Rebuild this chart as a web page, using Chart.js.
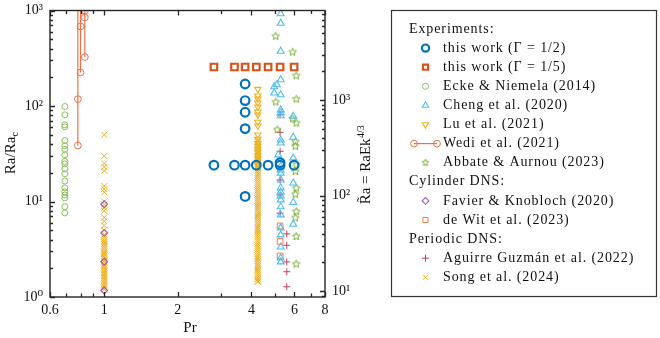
<!DOCTYPE html>
<html lang="en">
<head>
<meta charset="UTF-8" />
<title>Ra/Ra_c versus Pr</title>
<script src="https://cdn.jsdelivr.net/npm/chart.js"></script>
<style>
  html, body { margin: 0; padding: 0; background: #fff; }
  #wrap { width: 660px; height: 338px; }
</style>
</head>
<body>
<div id="wrap"><canvas id="chart" width="660" height="338"></canvas></div>
<script>
// ---- axes ----
const prTicks = [0.6, 0.7, 0.8, 0.9, 1, 2, 3, 4, 5, 6, 7, 8];
const prLabels = { 0.6: '0.6', 1: '1', 2: '2', 4: '4', 6: '6', 8: '8' };
const raTicks = [1, 2, 3, 4, 5, 6, 7, 8, 9, 10, 20, 30, 40, 50, 60, 70, 80, 90,
                 100, 200, 300, 400, 500, 600, 700, 800, 900, 1000];
const raLabels = { 1: '10⁰', 10: '10¹', 100: '10²', 1000: '10³' };
const raTildeTicks = [9, 10, 20, 30, 40, 50, 60, 70, 80, 90, 100, 200, 300, 400, 500,
                      600, 700, 800, 900, 1000, 2000, 3000, 4000, 5000, 6000, 7000, 8000];
const raTildeLabels = { 10: '10¹', 100: '10²', 1000: '10³' };
const raTildeRange = [8.7, 8700];

// ---- data (Pr, Ra/Ra_c) ----
const halfPr = [2.81, 3.41, 3.77, 4.19, 4.68, 5.24, 5.24, 5.98, 3.77, 3.77, 3.77, 3.77, 3.77];
const halfRa = [24, 24, 24, 24, 24, 24, 25.5, 24, 170, 114, 86, 58, 11.3];
const fifthPr = [2.81, 3.41, 3.77, 4.19, 4.68, 5.24, 5.98];
const fifthRa = [256, 256, 256, 256, 256, 256, 256];
const eckePr = 0.69;
const eckeRa = [98.8, 80.9, 63.5, 60.5, 43.5, 38.3, 35.2, 30.8, 26.3, 24.8, 22, 19.5,
                16.4, 13.9, 12.6, 11.7, 10.9, 8.84, 7.6];
const chengPr = [5.27, 5.27, 5.27, 5.27, 5.27, 5.27, 5.27, 5.27, 5.27, 5.27, 5.15, 5.27, 5.27,
                 5.27, 5.27, 5.27, 5.27, 5.27, 5.27, 5.27, 5.27, 5.27, 5.27, 5.27, 5.27, 5.27,
                 5.08, 4.96, 4.96, 5.93, 5.93, 5.93, 5.93, 5.93, 5.93];
const chengRa = [926, 736, 375, 188, 131, 91, 85, 79, 44, 41, 30.8, 23.2, 21.4,
                 19.8, 16.8, 13.9, 12.6, 11.4, 10.4, 8.8, 7.24, 5.29, 4.47, 3.34, 2.56, 2.33,
                 167, 159, 137, 78, 47, 28.6, 15.6, 9.8, 5.78];
const luPr = 4.25;
const luRa = [150, 128, 119, 108, 98, 87, 81, 68, 62, 50, 45, 41, 38, 35, 33, 30, 28, 26, 24];
const wediPr = [0.78, 0.8, 0.833];
const wediRa = [[38.5, 118, 3000], [224, 681, 3000], [326, 847, 995, 3000]];
const abbatePr = [5.03, 5.9, 6.1, 5.03, 6.1, 5.1, 5.9, 6.1, 6.05, 6.05, 6.1, 6.05, 6.1,
                  6.05, 6.1, 6.05, 6.1, 6.1];
const abbateRa = [538, 367, 207, 110, 118, 56.3, 73.4, 66.2, 42.2, 37.8, 24.2, 20.6, 13.8,
                  11.9, 7.84, 6.73, 4.3, 2.21];
const favierPr = 1;
const favierRa = [9.37, 4.69, 2.34, 1.17];
const dewitPr = 5.24;
const dewitRa = [5.55, 3.82, 2.69];
const aguirrePr = [5.24, 5.24, 5.24, 5.24, 5.24, 5.24, 5.58, 5.58, 5.58, 5.58, 5.58];
const aguirreRa = [81, 53, 33.5, 16.8, 11.7, 7.54, 4.58, 3.48, 2.33, 1.84, 1.28];
const songPrA = 1;
const songRaA = [50, 30, 25, 23, 21, 14.5, 13.5, 12.5, 10, 9.3, 8.6, 8, 6.8, 6.2, 5.6, 5,
                 4.5, 4.3, 4.1, 3.9, 3.75, 3.6, 3.45, 3.3, 3.15, 3.0, 2.9, 2.8, 2.7, 2.6, 2.5,
                 2.4, 2.3, 2.2, 2.12, 2.05, 1.98, 1.9, 1.83, 1.76, 1.7, 1.64, 1.58, 1.52, 1.46,
                 1.4, 1.35, 1.3, 1.25, 1.2];
const songPrB = 4.25;
const songRaB = [44, 42, 40, 38, 36, 34.5, 33, 31.5, 30, 28.5, 27, 26, 25, 24, 23, 22, 21, 20,
                 19, 18.2, 17.4, 16.6, 15.8, 15, 14.3, 13.6, 13, 12.4, 11.8, 11.2, 10.7, 10.2,
                 9.7, 9.2, 8.8, 8.4, 8, 7.6, 7.2, 6.9, 6.6, 6.3, 6, 5.7, 5.4, 5.2, 5, 4.8, 4.6,
                 4.4, 4.2, 4, 3.8, 3.6, 3.45, 3.3, 3.15, 3, 2.85, 2.7, 2.6, 2.5, 2.4, 2.3, 2.2,
                 2.1, 2, 1.92, 1.84, 1.76, 1.68, 1.6, 1.54, 1.48, 1.44];

const pairs = (xs, ys) => ys.map((y, i) => ({ x: Array.isArray(xs) ? xs[i] : xs, y: y }));

function makeStar(color, r) {
  const c = document.createElement('canvas');
  const s = Math.ceil(r * 2 + 3);
  c.width = c.height = s;
  const g = c.getContext('2d');
  g.strokeStyle = color;
  g.lineWidth = 1;
  g.beginPath();
  for (let i = 0; i < 10; i++) {
    const a = -Math.PI / 2 + i * Math.PI / 5;
    const rr = i % 2 ? r * 0.45 : r;
    g.lineTo(s / 2 + rr * Math.cos(a), s / 2 + rr * Math.sin(a));
  }
  g.closePath();
  g.stroke();
  return c;
}

const C = {
  blue: '#0072BD', orange: '#D95319', ecke: '#88BF57', cheng: '#4DBEEE', lu: '#EDB120',
  wedi: '#E8734A', abbate: '#77AC30', favier: '#9E5BB5', dewit: '#EE7D4A',
  aguirre: '#C23F5B', song: '#EDB120'
};
const starImg = makeStar(C.abbate, 4);
const starLegend = makeStar(C.abbate, 3.5);

function ds(label, data, color, style, radius, width, extra) {
  return Object.assign({
    label: label, data: data, borderColor: color, backgroundColor: 'rgba(0,0,0,0)',
    pointStyle: style, pointRadius: radius, pointHoverRadius: radius,
    pointBorderWidth: width, showLine: false
  }, extra || {});
}

const datasets = [
  ds('this work (Γ = 1/2)', pairs(halfPr, halfRa), C.blue, 'circle', 4.3, 2.2),
  ds('this work (Γ = 1/5)', pairs(fifthPr, fifthRa), C.orange, 'rect', 4.6, 2.2),
  ds('Ecke & Niemela (2014)', pairs(eckePr, eckeRa), C.ecke, 'circle', 3, 1),
  ds('Cheng et al. (2020)', pairs(chengPr, chengRa), C.cheng, 'triangle', 4, 1.1),
  ds('Lu et al. (2021)', pairs(luPr, luRa), C.lu, 'triangle', 3.6, 1.1, { pointRotation: 180 }),
  ...wediRa.map((ra, k) => ds('Wedi et al. (2021)', pairs(wediPr[k], ra), C.wedi, 'circle', 3.4, 1,
      { showLine: true, borderWidth: 1.2, clip: 0 })),
  ds('Abbate & Aurnou (2023)', pairs(abbatePr, abbateRa), C.abbate, starImg, 4, 1),
  ds('Favier & Knobloch (2020)', pairs(favierPr, favierRa), C.favier, 'rectRot', 3.4, 1.1),
  ds('de Wit et al. (2023)', pairs(dewitPr, dewitRa), C.dewit, 'rect', 4, 1),
  ds('Aguirre Guzmán et al. (2022)', pairs(aguirrePr, aguirreRa), C.aguirre, 'cross', 3.5, 1),
  ds('Song et al. (2024)', pairs(songPrA, songRaA), C.song, 'crossRot', 4.2, 1),
  ds('Song et al. (2024)', pairs(songPrB, songRaB), C.song, 'crossRot', 4.2, 1)
];

const legendRows = [
  { header: 'Experiments:' },
  { ds: 0 }, { ds: 1 }, { ds: 2 }, { ds: 3 }, { ds: 4 }, { ds: 5, line: true }, { ds: 8 },
  { header: 'Cylinder DNS:' },
  { ds: 9 }, { ds: 10 },
  { header: 'Periodic DNS:' },
  { ds: 11 }, { ds: 12 }
];

const SERIF = "'Liberation Serif', 'DejaVu Serif', serif";

const framePlugin = {
  id: 'frame',
  afterDraw(chart) {
    const ctx = chart.ctx, a = chart.chartArea;
    const xs = chart.scales.x, yl = chart.scales.y, yr = chart.scales.y2;
    ctx.save();
    ctx.strokeStyle = '#262626';
    ctx.lineWidth = 1.3;
    ctx.beginPath();
    prTicks.forEach(v => {
      const p = Math.round(xs.getPixelForValue(v)) + 0.5;
      const L = prLabels[v] ? 5 : 3.5;
      ctx.moveTo(p, a.bottom); ctx.lineTo(p, a.bottom - L);
      ctx.moveTo(p, a.top); ctx.lineTo(p, a.top + L);
    });
    raTicks.forEach(v => {
      const p = Math.round(yl.getPixelForValue(v)) + 0.5;
      const L = raLabels[v] ? 5 : 3;
      ctx.moveTo(a.left, p); ctx.lineTo(a.left + L, p);
    });
    raTildeTicks.forEach(v => {
      const p = Math.round(yr.getPixelForValue(v)) + 0.5;
      const L = raTildeLabels[v] ? 5 : 3;
      ctx.moveTo(a.right, p); ctx.lineTo(a.right - L, p);
    });
    ctx.stroke();
    ctx.lineWidth = 1.4;
    ctx.strokeRect(a.left, a.top, a.right - a.left, a.bottom - a.top);

    // axis titles
    ctx.fillStyle = '#111';
    ctx.textBaseline = 'alphabetic';
    ctx.font = '15px ' + SERIF;
    ctx.textAlign = 'center';
    ctx.fillText('Pr', 190, 332);

    ctx.textAlign = 'left';
    ctx.save();
    ctx.translate(15, 153);
    ctx.rotate(-Math.PI / 2);
    const t1 = 'Ra/Ra';
    ctx.font = '15px ' + SERIF;
    const w1 = ctx.measureText(t1).width;
    ctx.font = '11px ' + SERIF;
    const w2 = ctx.measureText('c').width;
    let x0 = -(w1 + w2) / 2;
    ctx.font = '15px ' + SERIF;
    ctx.fillText(t1, x0, 0);
    ctx.font = '11px ' + SERIF;
    ctx.fillText('c', x0 + w1, 3);
    ctx.restore();

    ctx.save();
    ctx.translate(370, 165);
    ctx.rotate(-Math.PI / 2);
    const t2 = 'R\u0303a = RaEk';
    ctx.font = '15px ' + SERIF;
    const u1 = ctx.measureText(t2).width;
    ctx.font = '10px ' + SERIF;
    const u2 = ctx.measureText('4/3').width;
    x0 = -(u1 + u2) / 2;
    ctx.font = '15px ' + SERIF;
    ctx.fillText(t2, x0, 0);
    ctx.font = '10px ' + SERIF;
    ctx.fillText('4/3', x0 + u1 + 0.5, -6);
    ctx.restore();

    // legend
    ctx.lineWidth = 1.2;
    ctx.strokeStyle = '#333';
    ctx.strokeRect(391.5, 10.5, 265, 286);
    ctx.font = '14px ' + SERIF;
    ctx.textBaseline = 'middle';
    ctx.letterSpacing = '0.9px';
    legendRows.forEach((row, i) => {
      const y = 29 + i * 19.1;
      if (row.header) {
        ctx.fillStyle = '#111';
        ctx.fillText(row.header, 409, y);
        return;
      }
      const d = chart.data.datasets[row.ds];
      ctx.strokeStyle = d.borderColor;
      ctx.fillStyle = 'rgba(0,0,0,0)';
      const style = d.pointStyle === starImg ? starLegend : d.pointStyle;
      const opts = { pointStyle: style, radius: Math.min(d.pointRadius, 3.6),
                     borderWidth: d.pointBorderWidth, rotation: d.pointRotation || 0 };
      ctx.lineWidth = d.pointBorderWidth;
      if (row.line) {
        ctx.beginPath();
        ctx.moveTo(414, y); ctx.lineTo(437, y);
        ctx.lineWidth = 1.2;
        ctx.stroke();
        ctx.lineWidth = 1;
        Chart.helpers.drawPoint(ctx, opts, 414, y);
        Chart.helpers.drawPoint(ctx, opts, 437, y);
      } else {
        Chart.helpers.drawPoint(ctx, opts, 425.5, y);
      }
      ctx.fillStyle = '#111';
      ctx.fillText(d.label, 443, y);
    });
    ctx.restore();
  }
};

Chart.defaults.font.family = SERIF;
Chart.defaults.color = '#111';

const noPadV = s => { s.paddingTop = 0; s.paddingBottom = 0; };

new Chart(document.getElementById('chart'), {
  type: 'scatter',
  data: { datasets: datasets },
  options: {
    responsive: false,
    animation: false,
    events: [],
    layout: { padding: { top: 10.5, right: 290, left: 0, bottom: 0 } },
    plugins: { legend: { display: false }, tooltip: { enabled: false } },
    scales: {
      x: {
        type: 'logarithmic', min: 0.6, max: 8,
        grid: { display: false, drawTicks: false }, border: { display: false },
        afterBuildTicks: s => { s.ticks = prTicks.map(v => ({ value: v })); },
        afterFit: s => { s.height = 41; s.paddingLeft = 0; s.paddingRight = 0; },
        ticks: { autoSkip: false, maxRotation: 0, padding: 5, font: { size: 14 },
                 callback: v => prLabels[v] || '' }
      },
      y: {
        type: 'logarithmic', position: 'left', min: 1, max: 1000,
        grid: { display: false, drawTicks: false }, border: { display: false },
        afterBuildTicks: s => { s.ticks = raTicks.map(v => ({ value: v })); },
        afterFit: s => { s.width = 50; noPadV(s); },
        ticks: { autoSkip: false, padding: 7, font: { size: 14 },
                 callback: v => raLabels[v] || '' }
      },
      y2: {
        type: 'logarithmic', position: 'right', min: raTildeRange[0], max: raTildeRange[1],
        grid: { display: false, drawTicks: false }, border: { display: false },
        afterBuildTicks: s => { s.ticks = raTildeTicks.map(v => ({ value: v })); },
        afterFit: s => { s.width = 45; noPadV(s); },
        ticks: { autoSkip: false, padding: 7, font: { size: 14 },
                 callback: v => raTildeLabels[v] || '' }
      }
    }
  },
  plugins: [framePlugin]
});
</script>
</body>
</html>
